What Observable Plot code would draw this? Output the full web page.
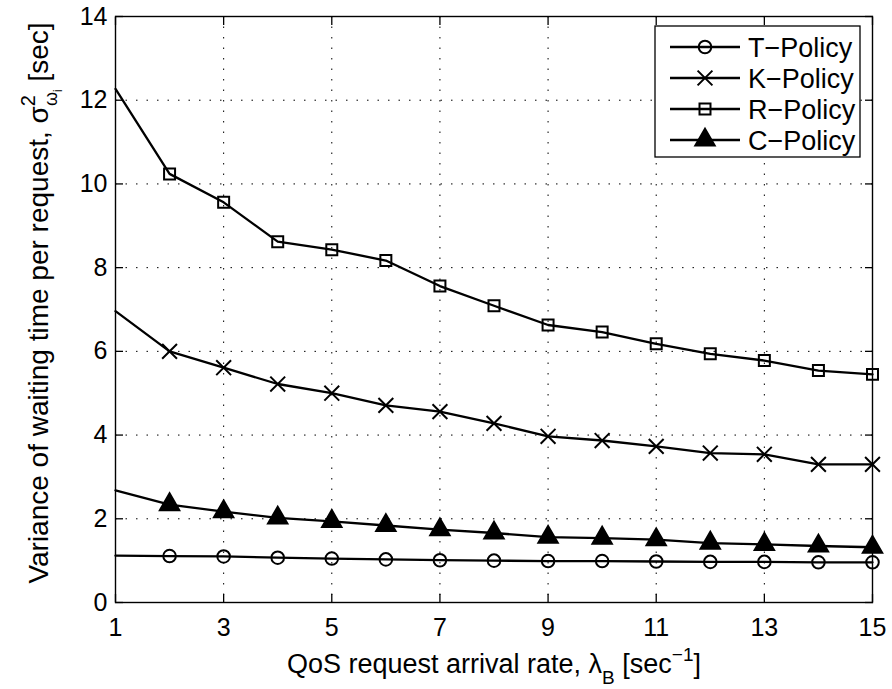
<!DOCTYPE html>
<html><head><meta charset="utf-8">
<script src="https://cdn.jsdelivr.net/npm/d3@7"></script>
<script src="https://cdn.jsdelivr.net/npm/@observablehq/plot@0.6"></script>
<style>body{margin:0;background:#fff} svg{display:block}</style>
</head><body><div id="chart"></div>
<script>
// ---- data ----
const rates = [1,2,3,4,5,6,7,8,9,10,11,12,13,14,15];
const xTicks = [1,3,5,7,9,11,13,15];
const yTicks = [0,2,4,6,8,10,12,14];
const policies = ["T\u2212Policy","K\u2212Policy","R\u2212Policy","C\u2212Policy"];
const tPolicy = [1.12,1.11,1.10,1.07,1.05,1.03,1.01,1.00,0.99,0.99,0.98,0.97,0.97,0.96,0.96];
const kPolicy = [6.96,6.00,5.61,5.22,5.00,4.71,4.56,4.28,3.97,3.87,3.73,3.57,3.54,3.30,3.30];
const rPolicy = [12.27,10.24,9.56,8.62,8.43,8.17,7.56,7.09,6.63,6.46,6.18,5.94,5.78,5.54,5.45];
const cPolicy = [2.68,2.34,2.17,2.02,1.94,1.84,1.74,1.66,1.56,1.54,1.50,1.42,1.39,1.35,1.32];
const series = [tPolicy, kPolicy, rPolicy, cPolicy];
const markerSymbols = ["circle","times","square","triangle"];
const markerR = [6.3, 6.8, 6.2, 7.2];
const markerFill = ["none","none","none","black"];

const rows = policies.flatMap((p, i) => rates.map((x, j) => ({policy: p, x, y: series[i][j], marker: j > 0})));

const font = "'Liberation Sans', Arial, Helvetica, sans-serif";
const fs = 25;
const lfs = 27;

const dotMarks = policies.map((p, i) =>
  Plot.dot(rows.filter(d => d.policy === p && d.marker), {
    x: "x", y: "y", symbol: () => markerSymbols[i], r: markerR[i],
    stroke: "black", strokeWidth: 2, fill: markerFill[i]
  })
);

const chart = Plot.plot({
  width: 892, height: 689,
  marginLeft: 115, marginRight: 20, marginTop: 16, marginBottom: 87,
  style: {fontFamily: font, fontSize: fs + "px", color: "black", background: "white"},
  x: {domain: [1, 15], ticks: xTicks, label: null},
  y: {domain: [0, 14], ticks: yTicks, label: null},
  symbol: {type: "identity"},
  marks: [
    Plot.gridX(xTicks, {stroke: "black", strokeOpacity: 1, strokeWidth: 1, strokeDasharray: "1.5,9"}),
    Plot.gridY(yTicks, {stroke: "black", strokeOpacity: 1, strokeWidth: 1, strokeDasharray: "1.5,9"}),
    Plot.axisX(xTicks, {anchor: "bottom", tickSize: 0, tickPadding: 16, label: null, fontSize: fs}),
    Plot.axisY(yTicks, {anchor: "left", tickSize: 0, tickPadding: 8, label: null, fontSize: fs}),
    Plot.axisX(xTicks, {anchor: "bottom", tickSize: -8, fill: "none", label: null, strokeWidth: 1.3}),
    Plot.axisX(xTicks, {anchor: "top", tickSize: -8, fill: "none", label: null, strokeWidth: 1.3}),
    Plot.axisY(yTicks, {anchor: "left", tickSize: -8, fill: "none", label: null, strokeWidth: 1.3}),
    Plot.axisY(yTicks, {anchor: "right", tickSize: -8, fill: "none", label: null, strokeWidth: 1.3}),
    Plot.frame({stroke: "black", strokeWidth: 1.4}),
    Plot.line(rows, {x: "x", y: "y", z: "policy", stroke: "black", strokeWidth: 2.3}),
    ...dotMarks
  ]
});

document.getElementById("chart").appendChild(chart);

const svg = d3.select(chart);

// x-axis label
const xl = svg.append("text")
  .attr("x", 494).attr("y", 673)
  .attr("text-anchor", "middle")
  .attr("font-family", font).attr("font-size", lfs).attr("fill", "black");
xl.append("tspan").text("QoS request arrival rate, \u03bb");
xl.append("tspan").attr("dy", 11).attr("font-size", 19).text("B");
xl.append("tspan").attr("dy", -11).text(" [sec");
xl.append("tspan").attr("dy", -12).attr("font-size", 19).text("\u22121");
xl.append("tspan").attr("dy", 12).text("]");

// y-axis label
const yl = svg.append("text")
  .attr("transform", "translate(48,303) rotate(-90)")
  .attr("text-anchor", "middle")
  .attr("font-family", font).attr("font-size", 28).attr("fill", "black");
yl.append("tspan").text("Variance of waiting time per request, \u03c3");
yl.append("tspan").attr("dy", -13).attr("font-size", 20).text("2");
yl.append("tspan").attr("dx", -11).attr("dy", 22).attr("font-size", 18).text("\u03c9");
yl.append("tspan").attr("dy", 5).attr("font-size", 12).text("i");
yl.append("tspan").attr("dy", -14).text(" [sec]");

// legend
const lg = svg.append("g").attr("text-anchor", "start");
lg.append("rect").attr("x", 655).attr("y", 26).attr("width", 205).attr("height", 131)
  .attr("fill", "white").attr("stroke", "black").attr("stroke-width", 1.3);
const d3sym = {circle: d3.symbolCircle, times: d3.symbolTimes, square: d3.symbolSquare, triangle: d3.symbolTriangle};
policies.forEach((p, i) => {
  const cy = 47 + i * 31;
  lg.append("line").attr("x1", 670).attr("x2", 740).attr("y1", cy).attr("y2", cy)
    .attr("stroke", "black").attr("stroke-width", 2.3);
  lg.append("path")
    .attr("d", d3.symbol(d3sym[markerSymbols[i]], Math.PI * markerR[i] * markerR[i])())
    .attr("transform", `translate(705,${cy})`)
    .attr("fill", markerFill[i]).attr("stroke", "black").attr("stroke-width", 2);
  lg.append("text").attr("x", 748).attr("y", cy + 9.5)
    .attr("text-anchor", "start")
    .attr("font-family", font).attr("font-size", lfs).attr("fill", "black").text(p);
});
</script>
</body></html>
